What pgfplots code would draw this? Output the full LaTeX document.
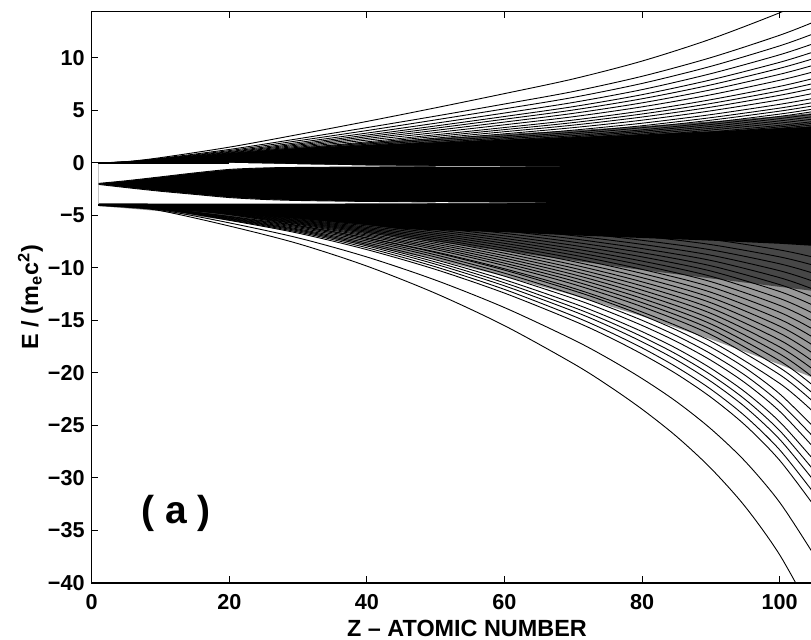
\documentclass[border=0pt]{standalone}
\usepackage{fontspec}
\setmainfont{Liberation Sans}
\usepackage{pgfplots}
\pgfplotsset{compat=1.18}
\tikzset{ln/.style={black, line width=0.45pt, line join=round, smooth, tension=0.5}}
\begin{document}
\begin{tikzpicture}
\begin{axis}[
 scale only axis, width=361.2pt, height=285.6pt,
 xmin=0, xmax=105, ymin=-40, ymax=14.4,
 axis line style={line width=0.65pt},
 tick align=inside, major tick length=3.3pt,
 every tick/.style={black, line width=0.5pt},
 xtick={0,20,40,60,80,100},
 xticklabels={0,20,40,60,80,100},
 ytick={-40,-35,-30,-25,-20,-15,-10,-5,0,5,10},
 yticklabels={−40,−35,−30,−25,−20,−15,−10,−5,0,5,10},
 ytick pos=left,
 ticklabel style={font=\fontsize{10.8}{12}\selectfont\bfseries},
 xticklabel style={yshift=-2.15pt},
 xlabel={Z -- ATOMIC NUMBER},
 ylabel={E / (m\textsubscript{e}c\textsuperscript{2})},
 label style={font=\fontsize{11.7}{13}\selectfont\bfseries},
 xlabel style={at={(axis description cs:0.5195,-0.0937)}, anchor=base},
 ylabel style={at={(axis description cs:-0.0743,0.5)}, anchor=base},
]
% light dense-line zone below the core
\addplot[fill=black!40, draw=none] coordinates {(1,-4.1)(10,-4.6)(20,-5.5)(30,-6.6)(40,-7.9)(50,-9.2)(60,-10.8)(70,-12.6)(80,-14.6)(90,-16.8)(95,-18.0)(100,-19.2)(105,-20.5)(105,-4)(1,-4)} -- cycle;
% dark dense-line zone below the core
\addplot[fill=black!72, draw=none] coordinates {(1,-4.1)(10,-4.5)(20,-5.1)(30,-5.8)(40,-6.7)(50,-7.5)(60,-8.4)(70,-9.3)(80,-10.2)(90,-11.0)(95,-11.4)(100,-11.8)(105,-12.2)(105,-4)(1,-4)} -- cycle;
% dark dense-line zone above the core
\addplot[fill=black!65, draw=none] coordinates {(1,0)(10,0.22)(20,0.95)(30,1.5)(40,1.95)(50,2.35)(60,2.75)(70,3.1)(80,3.5)(90,3.95)(100,4.45)(105,4.75)(105,0)(1,0)} -- cycle;
% solid core of the level bands
\addplot[fill=black, draw=none] coordinates {(1,0)(5,0.05)(10,0.2)(20,0.9)(30,1.4)(40,1.7)(50,1.95)(60,2.2)(70,2.45)(80,2.7)(90,3.0)(100,3.3)(105,3.45)(105,-7.9)(100,-7.7)(90,-7.4)(80,-7.15)(70,-6.9)(60,-6.6)(50,-6.4)(45,-6.3)(40,-5.9)(30,-5.3)(20,-4.8)(10,-4.4)(5,-4.2)(1,-4.1)} -- cycle;
% gaps between the bands
\addplot[fill=white, draw=none] coordinates {(1,0)(20,0)(25,-0.06)(30,-0.13)(40,-0.25)(50,-0.3)(60,-0.32)(68,-0.33)(60,-0.35)(50,-0.36)(40,-0.38)(30,-0.42)(25,-0.47)(20,-0.62)(15,-0.95)(10,-1.33)(5,-1.7)(1,-1.95)} -- cycle;
\addplot[fill=white, draw=none] coordinates {(1,-2.05)(5,-2.35)(10,-2.7)(15,-3.0)(20,-3.3)(25,-3.48)(30,-3.58)(40,-3.68)(50,-3.74)(60,-3.78)(66,-3.8)(60,-3.82)(50,-3.84)(40,-3.86)(30,-3.88)(20,-3.88)(10,-3.87)(5,-3.86)(1,-3.85)} -- cycle;
% band edges
\addplot[ln, line width=0.6pt] coordinates {(1,0)(20,0)};
\addplot[ln] coordinates {(1,-1.95)(5,-1.7)(10,-1.33)(15,-0.95)(20,-0.62)(25,-0.48)(30,-0.43)(40,-0.39)(50,-0.37)};
\addplot[ln] coordinates {(1,-2.05)(5,-2.35)(10,-2.7)(15,-3.0)(20,-3.3)(25,-3.48)(30,-3.58)(40,-3.67)(50,-3.72)};
% upper fan
\addplot[ln] coordinates {(1,0)(5,0.12)(10,0.50)(20,1.50)(30,2.70)(40,3.95)(50,5.25)(60,6.60)(70,8.00)(80,9.70)(90,11.80)(100,14.30)(105,15.80)};
\addplot[ln] coordinates {(1,0)(5,0.10)(10,0.43)(20,1.28)(30,2.30)(40,3.36)(50,4.46)(60,5.61)(70,6.80)(80,8.25)(90,10.03)(100,12.16)(105,13.43)};
\addplot[ln] coordinates {(1,0)(5,0.09)(10,0.39)(20,1.17)(30,2.11)(40,3.08)(50,4.10)(60,5.15)(70,6.24)(80,7.57)(90,9.20)(100,11.15)(105,12.32)};
\addplot[ln] coordinates {(1,0)(5,0.09)(10,0.36)(20,1.08)(30,1.94)(40,2.84)(50,3.78)(60,4.75)(70,5.76)(80,6.98)(90,8.50)(100,10.30)(105,11.38)};
\addplot[ln] coordinates {(1,0)(5,0.08)(10,0.34)(20,1.01)(30,1.81)(40,2.65)(50,3.52)(60,4.42)(70,5.36)(80,6.50)(90,7.91)(100,9.58)(105,10.59)};
\addplot[ln] coordinates {(1,0)(5,0.08)(10,0.32)(20,0.95)(30,1.70)(40,2.49)(50,3.31)(60,4.16)(70,5.04)(80,6.11)(90,7.43)(100,9.01)(105,9.95)};
\addplot[ln] coordinates {(1,0)(5,0.07)(10,0.30)(20,0.89)(30,1.59)(40,2.33)(50,3.10)(60,3.89)(70,4.72)(80,5.72)(90,6.96)(100,8.44)(105,9.32)};
\addplot[ln] coordinates {(1,0)(5,0.07)(10,0.28)(20,0.83)(30,1.49)(40,2.17)(50,2.89)(60,3.63)(70,4.40)(80,5.34)(90,6.49)(100,7.87)(105,8.69)};
\addplot[ln] coordinates {(1,0)(5,0.06)(10,0.26)(20,0.77)(30,1.38)(40,2.01)(50,2.68)(60,3.37)(70,4.08)(80,4.95)(90,6.02)(100,7.29)(105,8.06)};
\addplot[ln] coordinates {(1,0)(5,0.06)(10,0.24)(20,0.72)(30,1.30)(40,1.90)(50,2.52)(60,3.17)(70,3.84)(80,4.66)(90,5.66)(100,6.86)(105,7.58)};
\addplot[ln] coordinates {(1,0)(5,0.05)(10,0.23)(20,0.68)(30,1.22)(40,1.78)(50,2.36)(60,2.97)(70,3.60)(80,4.37)(90,5.31)(100,6.44)(105,7.11)};
\addplot[ln] coordinates {(1,0)(5,0.05)(10,0.21)(20,0.63)(30,1.13)(40,1.66)(50,2.21)(60,2.77)(70,3.36)(80,4.07)(90,4.96)(100,6.01)(105,6.64)};
\addplot[ln] coordinates {(1,0)(5,0.05)(10,0.20)(20,0.59)(30,1.05)(40,1.54)(50,2.05)(60,2.57)(70,3.12)(80,3.78)(90,4.60)(100,5.58)(105,6.16)};
\addplot[ln] coordinates {(1,0)(5,0.04)(10,0.18)(20,0.55)(30,0.99)(40,1.44)(50,1.92)(60,2.41)(70,2.92)(80,3.54)(90,4.31)(100,5.22)(105,5.77)};
\addplot[ln] coordinates {(1,0)(5,0.04)(10,0.17)(20,0.52)(30,0.93)(40,1.36)(50,1.81)(60,2.28)(70,2.76)(80,3.35)(90,4.07)(100,4.93)(105,5.45)};
\addplot[ln] coordinates {(1,0)(5,0.04)(10,0.16)(20,0.49)(30,0.88)(40,1.28)(50,1.71)(60,2.15)(70,2.60)(80,3.15)(90,3.84)(100,4.65)(105,5.14)};
\addplot[ln] coordinates {(1,0)(5,0.04)(10,0.16)(20,0.47)(30,0.84)(40,1.22)(50,1.63)(60,2.05)(70,2.48)(80,3.01)(90,3.66)(100,4.43)(105,4.90)};
\addplot[ln] coordinates {(1,0)(5,0.04)(10,0.15)(20,0.44)(30,0.80)(40,1.17)(50,1.55)(60,1.95)(70,2.36)(80,2.86)(90,3.48)(100,4.22)(105,4.66)};
\addplot[ln] coordinates {(1,0)(5,0.03)(10,0.14)(20,0.42)(30,0.76)(40,1.11)(50,1.47)(60,1.85)(70,2.24)(80,2.72)(90,3.30)(100,4.00)(105,4.42)};
\addplot[ln] coordinates {(1,0)(5,0.03)(10,0.13)(20,0.40)(30,0.72)(40,1.05)(50,1.39)(60,1.75)(70,2.12)(80,2.57)(90,3.13)(100,3.79)(105,4.19)};
\addplot[ln] coordinates {(1,0)(5,0.03)(10,0.13)(20,0.38)(30,0.68)(40,0.99)(50,1.31)(60,1.65)(70,2.00)(80,2.43)(90,2.95)(100,3.58)(105,3.95)};
\addplot[ln] coordinates {(1,0)(5,0.03)(10,0.12)(20,0.36)(30,0.65)(40,0.95)(50,1.26)(60,1.58)(70,1.92)(80,2.33)(90,2.83)(100,3.43)(105,3.79)};
\addplot[ln] coordinates {(1,0)(5,0.03)(10,0.12)(20,0.35)(30,0.62)(40,0.91)(50,1.21)(60,1.52)(70,1.84)(80,2.23)(90,2.71)(100,3.29)(105,3.63)};
\addplot[ln] coordinates {(1,0)(5,0.03)(10,0.11)(20,0.33)(30,0.59)(40,0.87)(50,1.16)(60,1.45)(70,1.76)(80,2.13)(90,2.60)(100,3.15)(105,3.48)};
% lower fan, outer lines
\addplot[ln] coordinates {(1,-4)(5,-4.20)(10,-4.55)(20,-6.01)(30,-7.69)(40,-9.83)(50,-12.43)(60,-15.50)(70,-19.11)(75,-21.17)(80,-23.46)(85,-26.05)(90,-29.09)(95,-32.75)(100,-37.33)(105,-43.24)};
\addplot[ln] coordinates {(1,-4)(5,-4.17)(10,-4.47)(20,-5.71)(30,-7.14)(40,-8.96)(50,-11.17)(60,-13.78)(70,-16.84)(75,-18.59)(80,-20.54)(85,-22.74)(90,-25.33)(95,-28.44)(100,-32.33)(105,-37.35)};
\addplot[ln] coordinates {(1,-4)(5,-4.15)(10,-4.40)(20,-5.47)(30,-6.69)(40,-8.26)(50,-10.15)(60,-12.40)(70,-15.03)(75,-16.53)(80,-18.21)(85,-20.10)(90,-22.32)(95,-24.99)(100,-28.33)(105,-32.65)};
\addplot[ln] coordinates {(1,-4)(5,-4.14)(10,-4.39)(20,-5.41)(30,-6.58)(40,-8.08)(50,-9.90)(60,-12.05)(70,-14.58)(75,-16.02)(80,-17.62)(85,-19.44)(90,-21.56)(95,-24.13)(100,-27.33)(105,-31.47)};
\addplot[ln] coordinates {(1,-4)(5,-4.13)(10,-4.37)(20,-5.35)(30,-6.47)(40,-7.91)(50,-9.65)(60,-11.71)(70,-14.12)(75,-15.50)(80,-17.04)(85,-18.77)(90,-20.81)(95,-23.26)(100,-26.33)(105,-30.29)};
\addplot[ln] coordinates {(1,-4)(5,-4.13)(10,-4.35)(20,-5.30)(30,-6.38)(40,-7.76)(50,-9.44)(60,-11.42)(70,-13.75)(75,-15.07)(80,-16.55)(85,-18.22)(90,-20.18)(95,-22.54)(100,-25.50)(105,-29.31)};
\addplot[ln] coordinates {(1,-4)(5,-4.12)(10,-4.34)(20,-5.25)(30,-6.29)(40,-7.61)(50,-9.23)(60,-11.13)(70,-13.37)(75,-14.65)(80,-16.07)(85,-17.67)(90,-19.56)(95,-21.83)(100,-24.66)(105,-28.33)};
\addplot[ln] coordinates {(1,-4)(5,-4.12)(10,-4.32)(20,-5.19)(30,-6.18)(40,-7.44)(50,-8.97)(60,-10.79)(70,-12.91)(75,-14.13)(80,-15.48)(85,-17.01)(90,-18.80)(95,-20.96)(100,-23.66)(105,-27.15)};
\addplot[ln] coordinates {(1,-4)(5,-4.11)(10,-4.31)(20,-5.14)(30,-6.08)(40,-7.29)(50,-8.76)(60,-10.50)(70,-12.54)(75,-13.70)(80,-14.99)(85,-16.46)(90,-18.18)(95,-20.24)(100,-22.83)(105,-26.17)};
\addplot[ln] coordinates {(1,-4)(5,-4.11)(10,-4.30)(20,-5.09)(30,-5.99)(40,-7.15)(50,-8.55)(60,-10.21)(70,-12.16)(75,-13.27)(80,-14.51)(85,-15.91)(90,-17.55)(95,-19.53)(100,-22.00)(105,-25.19)};
% lower fan, inner lines
\addplot[ln] coordinates {(1,-4)(5,-4.08)(10,-4.26)(20,-4.93)(30,-5.96)(40,-7.14)(50,-8.48)(60,-10.08)(70,-11.93)(80,-14.20)(90,-16.98)(100,-21.00)(105,-23.78)};
\addplot[ln] coordinates {(1,-4)(5,-4.07)(10,-4.25)(20,-4.88)(30,-5.86)(40,-6.99)(50,-8.26)(60,-9.78)(70,-11.55)(80,-13.70)(90,-16.35)(100,-20.17)(105,-22.82)};
\addplot[ln] coordinates {(1,-4)(5,-4.07)(10,-4.24)(20,-4.85)(30,-5.79)(40,-6.87)(50,-8.09)(60,-9.55)(70,-11.24)(80,-13.31)(90,-15.84)(100,-19.51)(105,-22.05)};
\addplot[ln] coordinates {(1,-4)(5,-4.07)(10,-4.23)(20,-4.81)(30,-5.71)(40,-6.75)(50,-7.92)(60,-9.31)(70,-10.93)(80,-12.91)(90,-15.34)(100,-18.85)(105,-21.28)};
\addplot[ln] coordinates {(1,-4)(5,-4.06)(10,-4.22)(20,-4.77)(30,-5.63)(40,-6.62)(50,-7.74)(60,-9.07)(70,-10.62)(80,-12.51)(90,-14.84)(100,-18.19)(105,-20.51)};
\addplot[ln] coordinates {(1,-4)(5,-4.06)(10,-4.21)(20,-4.74)(30,-5.56)(40,-6.50)(50,-7.57)(60,-8.84)(70,-10.31)(80,-12.12)(90,-14.33)(100,-17.53)(105,-19.74)};
\addplot[ln] coordinates {(1,-4)(5,-4.06)(10,-4.20)(20,-4.70)(30,-5.48)(40,-6.38)(50,-7.39)(60,-8.60)(70,-10.01)(80,-11.72)(90,-13.83)(100,-16.87)(105,-18.98)};
\addplot[ln] coordinates {(1,-4)(5,-4.06)(10,-4.19)(20,-4.67)(30,-5.41)(40,-6.26)(50,-7.22)(60,-8.37)(70,-9.70)(80,-11.33)(90,-13.32)(100,-16.21)(105,-18.21)};
\addplot[ln] coordinates {(1,-4)(5,-4.05)(10,-4.18)(20,-4.63)(30,-5.33)(40,-6.14)(50,-7.05)(60,-8.13)(70,-9.39)(80,-10.93)(90,-12.82)(100,-15.55)(105,-17.44)};
\addplot[ln] coordinates {(1,-4)(5,-4.05)(10,-4.17)(20,-4.59)(30,-5.25)(40,-6.01)(50,-6.87)(60,-7.89)(70,-9.08)(80,-10.53)(90,-12.32)(100,-14.89)(105,-16.67)};
\addplot[ln] coordinates {(1,-4)(5,-4.05)(10,-4.16)(20,-4.56)(30,-5.18)(40,-5.89)(50,-6.70)(60,-7.66)(70,-8.77)(80,-10.14)(90,-11.81)(100,-14.23)(105,-15.90)};
\addplot[ln] coordinates {(1,-4)(5,-4.04)(10,-4.15)(20,-4.52)(30,-5.10)(40,-5.77)(50,-6.52)(60,-7.42)(70,-8.47)(80,-9.74)(90,-11.31)(100,-13.57)(105,-15.14)};
\addplot[ln] coordinates {(1,-4)(5,-4.04)(10,-4.14)(20,-4.49)(30,-5.03)(40,-5.65)(50,-6.35)(60,-7.19)(70,-8.16)(80,-9.35)(90,-10.80)(100,-12.91)(105,-14.37)};
\addplot[ln] coordinates {(1,-4)(5,-4.04)(10,-4.13)(20,-4.45)(30,-4.95)(40,-5.53)(50,-6.18)(60,-6.95)(70,-7.85)(80,-8.95)(90,-10.30)(100,-12.25)(105,-13.60)};
\addplot[ln] coordinates {(1,-4)(5,-4.03)(10,-4.12)(20,-4.41)(30,-4.87)(40,-5.40)(50,-6.00)(60,-6.71)(70,-7.54)(80,-8.55)(90,-9.80)(100,-11.59)(105,-12.83)};
\addplot[ln] coordinates {(1,-4)(5,-4.03)(10,-4.11)(20,-4.38)(30,-4.80)(40,-5.28)(50,-5.83)(60,-6.48)(70,-7.23)(80,-8.16)(90,-9.29)(100,-10.93)(105,-12.06)};
\addplot[ln] coordinates {(1,-4)(5,-4.03)(10,-4.10)(20,-4.34)(30,-4.72)(40,-5.16)(50,-5.65)(60,-6.24)(70,-6.93)(80,-7.76)(90,-8.79)(100,-10.27)(105,-11.30)};
\addplot[ln] coordinates {(1,-4)(5,-4.03)(10,-4.09)(20,-4.31)(30,-4.65)(40,-5.04)(50,-5.48)(60,-6.01)(70,-6.62)(80,-7.37)(90,-8.28)(100,-9.61)(105,-10.53)};
\addplot[ln] coordinates {(1,-4)(5,-4.02)(10,-4.08)(20,-4.27)(30,-4.57)(40,-4.92)(50,-5.31)(60,-5.77)(70,-6.31)(80,-6.97)(90,-7.78)(100,-8.95)(105,-9.76)};
\addplot[ln] coordinates {(1,-4)(5,-4.02)(10,-4.07)(20,-4.23)(30,-4.49)(40,-4.79)(50,-5.13)(60,-5.53)(70,-6.00)(80,-6.57)(90,-7.28)(100,-8.29)(105,-8.99)};
\node[font=\fontsize{19.5}{22}\selectfont\bfseries] at (axis cs:12.25,-33.4) {( a )};
\coordinate (BL) at (rel axis cs:0,0);
\end{axis}
\pgfresetboundingbox
\path (BL) ++(-45.85pt,-28.25pt) rectangle ++(405.5pt,319.7pt);
\end{tikzpicture}
\end{document}
